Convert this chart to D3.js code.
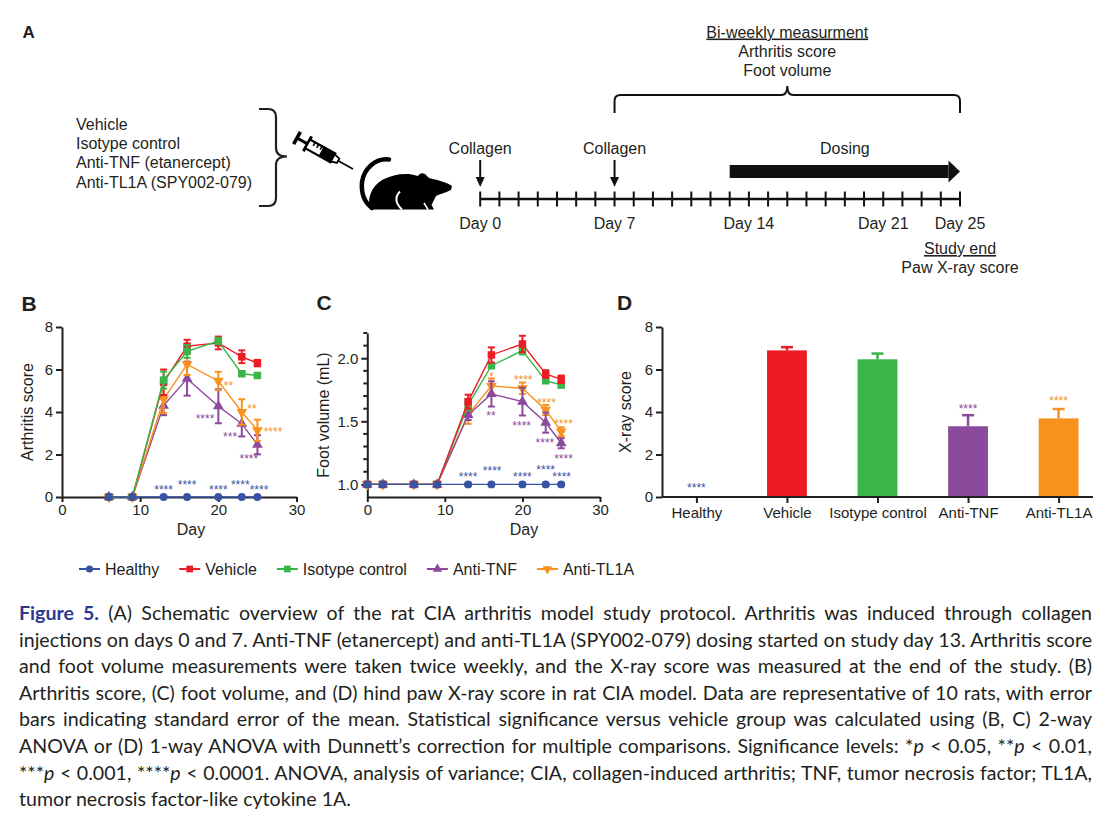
<!DOCTYPE html>
<html>
<head>
<meta charset="utf-8">
<script src="https://cdn.jsdelivr.net/npm/d3@7"></script>
<style>
  body { margin: 0; background: #fff; }
  svg { display: block; }
</style>
</head>
<body>
<svg id="fig" width="1106" height="815"></svg>
<script>
// Figure: CIA rat model — schematic (A), arthritis score (B), foot volume (C), X-ray score (D)

const FONT = '"Liberation Sans", Arial, Helvetica, sans-serif';
const INK = "#231f20";

// ---- data ----
const groups = ["Healthy", "Vehicle", "Isotype control", "Anti-TNF", "Anti-TL1A"];
const groupColors = ["#3953a4", "#ed1c24", "#39b54a", "#8b4a9c", "#f7921e"];
const groupSymbols = ["circle", "square", "square", "triUp", "triDown"];

// B: arthritis score (mean, SEM)
const arthDays = [6, 9, 13, 16, 20, 23, 25];
const arthHealthy  = [0, 0, 0, 0, 0, 0, 0];
const arthVehicle  = [0, 0, 5.4, 7.1, 7.25, 6.6, 6.3];
const arthIsotype  = [0, 0, 5.5, 6.85, 7.34, 5.8, 5.72];
const arthAntiTNF  = [0, 0, 4.3, 5.57, 4.27, 3.45, 2.46];
const arthAntiTL1A = [0, 0, 4.6, 6.24, 5.46, 4.0, 3.14];
const arthHealthyErr  = [0, 0, 0, 0, 0, 0, 0];
const arthVehicleErr  = [0, 0, 0.6, 0.3, 0.3, 0.3, 0.15];
const arthIsotypeErr  = [0, 0, 0.4, 0.3, 0.15, 0.1, 0.1];
const arthAntiTNFErr  = [0, 0, 0.45, 0.8, 0.8, 0.6, 0.45];
const arthAntiTL1AErr = [0, 0, 0.65, 0.5, 0.43, 0.6, 0.5];

// C: foot volume (mL)
const footDays = [0, 2, 6, 9, 13, 16, 20, 23, 25];
const footHealthy  = [1, 1, 1, 1, 1, 1, 1, 1, 1];
const footVehicle  = [1, 1, 1, 1, 1.656, 2.026, 2.113, 1.875, 1.833];
const footIsotype  = [1, 1, 1, 1, 1.63, 1.941, 2.06, 1.822, 1.788];
const footAntiTNF  = [1, 1, 1, 1, 1.55, 1.717, 1.656, 1.49, 1.326];
const footAntiTL1A = [1, 1, 1, 1, 1.555, 1.78, 1.762, 1.59, 1.418];
const footHealthyErr  = [0.01, 0.01, 0.01, 0.01, 0.01, 0.01, 0.01, 0.01, 0.01];
const footVehicleErr  = [0.015, 0.015, 0.01, 0.01, 0.055, 0.06, 0.065, 0.03, 0.03];
const footIsotypeErr  = [0.015, 0.015, 0.01, 0.01, 0.04, 0.02, 0.03, 0.02, 0.02];
const footAntiTNFErr  = [0.015, 0.015, 0.01, 0.01, 0.04, 0.1, 0.11, 0.08, 0.04];
const footAntiTL1AErr = [0.02, 0.02, 0.01, 0.01, 0.075, 0.06, 0.045, 0.04, 0.035];

// D: hind paw X-ray score
const xrayMean = [0, 6.9, 6.48, 3.33, 3.7];
const xrayErr  = [0, 0.15, 0.27, 0.52, 0.44];

// significance labels: [group index, day, value, text]
const arthStars = [
  [0, 13, 0.47, "****"], [0, 16, 0.71, "****"], [0, 20, 0.47, "****"],
  [0, 22.8, 0.71, "****"], [0, 25.2, 0.47, "****"],
  [4, 21.3, 5.35, "**"], [4, 24.3, 4.28, "**"], [4, 27.0, 3.18, "****"],
  [3, 18.3, 3.81, "****"], [3, 21.5, 2.96, "***"], [3, 23.9, 1.94, "****"]
];
const footStars = [
  [0, 13, 1.082, "****"], [0, 16.1, 1.13, "****"], [0, 20, 1.082, "****"],
  [0, 23, 1.135, "****"], [0, 25.06, 1.082, "****"],
  [4, 16.0, 1.875, "*"], [4, 20.1, 1.849, "****"], [4, 23.1, 1.669, "****"], [4, 25.3, 1.502, "****"],
  [3, 15.95, 1.563, "**"], [3, 19.9, 1.484, "****"], [3, 22.9, 1.352, "****"], [3, 25.3, 1.227, "****"]
];
const xrayStars = [[0, 0.55, "****"], [3, 4.3, "****"], [4, 4.66, "****"]];

// A: protocol schematic
const treatments = ["Vehicle", "Isotype control", "Anti-TNF (etanercept)", "Anti-TL1A (SPY002-079)"];
const timelineLabelDays = [0, 7, 14, 21, 25];
const collagenDays = [0, 7];
const dosingStart = 13, studyEnd = 25, measureStart = 7;
const measureLines = ["Bi-weekly measurment", "Arthritis score", "Foot volume"];
const endLines = ["Study end", "Paw X-ray score"];

const captionLines = [
  "{Figure 5.} (A) Schematic overview of the rat CIA arthritis model study protocol. Arthritis was induced through collagen",
  "injections on days 0 and 7. Anti-TNF (etanercept) and anti-TL1A (SPY002-079) dosing started on study day 13. Arthritis score",
  "and foot volume measurements were taken twice weekly, and the X-ray score was measured at the end of the study. (B)",
  "Arthritis score, (C) foot volume, and (D) hind paw X-ray score in rat CIA model. Data are representative of 10 rats, with error",
  "bars indicating standard error of the mean. Statistical significance versus vehicle group was calculated using (B, C) 2-way",
  "ANOVA or (D) 1-way ANOVA with Dunnett\u2019s correction for multiple comparisons. Significance levels: *_p_ < 0.05, **_p_ < 0.01,",
  "***_p_ < 0.001, ****_p_ < 0.0001. ANOVA, analysis of variance; CIA, collagen-induced arthritis; TNF, tumor necrosis factor; TL1A,",
  "tumor necrosis factor-like cytokine 1A."
];

// ---- helpers ----
const svg = d3.select("#fig");

function symbolPath(kind, small) {
  const k = small ? 0.8 : 1;
  if (kind === "circle") return d3.symbol(d3.symbolCircle, 50 * k)();
  if (kind === "square") return d3.symbol(d3.symbolSquare, 56 * k)();
  return d3.symbol(d3.symbolTriangle, 50 * k)();
}
function symbolRot(kind) { return kind === "triDown" ? " rotate(180)" : ""; }

function styleAxis(sel) {
  sel.attr("font-family", FONT).attr("font-size", 15);
  sel.select(".domain").attr("stroke", INK).attr("stroke-width", 2);
  sel.selectAll(".tick line").attr("stroke", INK).attr("stroke-width", 2);
  sel.selectAll(".tick text").attr("fill", INK);
}

function panelLabel(txt, x, y, size) {
  svg.append("text").attr("x", x).attr("y", y)
    .attr("font-family", FONT).attr("font-weight", 700).attr("font-size", size)
    .attr("fill", INK).text(txt);
}

function drawStars(g, list, x, y) {
  g.selectAll("text.star").data(list).join("text")
    .attr("class", "star")
    .attr("x", d => x(d[1])).attr("y", d => y(d[2]))
    .attr("dy", "0.58em")
    .attr("text-anchor", "middle")
    .attr("font-family", FONT).attr("font-size", 12)
    .attr("fill", d => groupColors[d[0]])
    .text(d => d[3]);
}

function drawLinePanel(cfg) {
  const g = svg.append("g");
  const x = d3.scaleLinear().domain([0, 30]).range(cfg.xRange);
  const y = d3.scaleLinear().domain(cfg.yDomain).range(cfg.yRange);

  if (cfg.minorTicks) {
    g.append("g").attr("transform", `translate(${cfg.xRange[0]},0)`)
      .selectAll("line").data(cfg.minorTicks).join("line")
      .attr("x1", -4).attr("x2", 0)
      .attr("y1", d => y(d)).attr("y2", d => y(d))
      .attr("stroke", INK).attr("stroke-width", 2);
  }
  g.append("g").attr("transform", `translate(${cfg.xRange[0]},0)`)
    .call(d3.axisLeft(y).tickValues(cfg.yTicks).tickFormat(cfg.yFormat)
      .tickSize(6).tickPadding(3).tickSizeOuter(0))
    .call(styleAxis);
  g.append("g").attr("transform", `translate(0,${cfg.yRange[0]})`)
    .call(d3.axisBottom(x).tickValues([0, 10, 20, 30]).tickSize(5).tickPadding(2).tickSizeOuter(0))
    .call(styleAxis);

  g.append("text").attr("x", cfg.dayX).attr("y", 535)
    .attr("text-anchor", "middle").attr("font-family", FONT).attr("font-size", 16)
    .attr("fill", INK).text("Day");
  g.append("text").attr("transform", `translate(${cfg.titleX},${cfg.titleY}) rotate(-90)`)
    .attr("text-anchor", "middle").attr("dy", "0.35em")
    .attr("font-family", FONT).attr("font-size", 16).attr("fill", INK).text(cfg.title);

  const line = d3.line().x(d => x(d.day)).y(d => y(d.v));
  cfg.order.forEach(gi => {
    const pts = cfg.days.map((day, i) => ({ day, v: cfg.means[gi][i], e: cfg.errs[gi][i] }));
    const col = groupColors[gi];
    const sg = g.append("g");
    sg.append("path").datum(pts).attr("d", line)
      .attr("fill", "none").attr("stroke", col).attr("stroke-width", 1.4);
    const eb = sg.selectAll("g.err").data(pts.filter(d => d.e > 0)).join("g").attr("class", "err")
      .attr("stroke", col).attr("stroke-width", 2);
    eb.append("line").attr("x1", d => x(d.day)).attr("x2", d => x(d.day))
      .attr("y1", d => y(d.v - d.e)).attr("y2", d => y(d.v + d.e));
    eb.append("line").attr("x1", d => x(d.day) - 3.5).attr("x2", d => x(d.day) + 3.5)
      .attr("y1", d => y(d.v + d.e)).attr("y2", d => y(d.v + d.e));
    eb.append("line").attr("x1", d => x(d.day) - 3.5).attr("x2", d => x(d.day) + 3.5)
      .attr("y1", d => y(d.v - d.e)).attr("y2", d => y(d.v - d.e));
    sg.selectAll("path.pt").data(pts).join("path").attr("class", "pt")
      .attr("d", symbolPath(groupSymbols[gi]))
      .attr("transform", d => `translate(${x(d.day)},${y(d.v)})` + symbolRot(groupSymbols[gi]))
      .attr("fill", col);
  });
  drawStars(g, cfg.stars, x, y);
}

// ---- Panel A ----
panelLabel("A", 22.5, 37.5, 17);

const listG = svg.append("g").attr("font-family", FONT).attr("font-size", 16).attr("fill", INK);
listG.selectAll("text").data(treatments).join("text")
  .attr("x", 76).attr("y", (d, i) => 130 + i * 19.2).text(d => d);

svg.append("path")
  .attr("d", "M259,109 L268,109 Q276,109 276,117 L276,148 Q276,156.5 287,156.5 Q276,156.5 276,165 L276,198 Q276,206 268,206 L259,206")
  .attr("fill", "none").attr("stroke", INK).attr("stroke-width", 2.2);

// syringe
const syr = svg.append("g").attr("transform", "translate(297,138) rotate(29)")
  .attr("stroke", "#000").attr("stroke-linecap", "butt");
syr.append("line").attr("x1", 0).attr("y1", -7).attr("x2", 0).attr("y2", 7).attr("stroke-width", 3.5);
syr.append("line").attr("x1", 0).attr("y1", 0).attr("x2", 12).attr("y2", 0).attr("stroke-width", 3);
syr.append("line").attr("x1", 12).attr("y1", -8.5).attr("x2", 12).attr("y2", 8.5).attr("stroke-width", 3);
syr.append("rect").attr("x", 12).attr("y", -5).attr("width", 29).attr("height", 10)
  .attr("fill", "#fff").attr("stroke-width", 2.2);
syr.append("rect").attr("x", 28).attr("y", -5).attr("width", 13).attr("height", 10).attr("fill", "#000");
syr.selectAll("line.grad").data([18, 22, 26]).join("line").attr("class", "grad")
  .attr("x1", d => d).attr("x2", d => d).attr("y1", -5).attr("y2", -1).attr("stroke-width", 1.6);
syr.append("path").attr("d", "M41,-4 L47,-2.5 L47,2.5 L41,4 Z").attr("fill", "#fff").attr("stroke-width", 1.8);
syr.append("line").attr("x1", 47).attr("y1", 0).attr("x2", 64).attr("y2", 0).attr("stroke-width", 1.6);

// rat silhouette
svg.append("path")
  .attr("d", "M389,159.5 C376,158 364,168 362,182 C361,193 364,202 372,208")
  .attr("fill", "none").attr("stroke", "#000").attr("stroke-width", 4.5).attr("stroke-linecap", "round");
svg.append("path")
  .attr("d", "M370,209.5 C367,199 371,186 383,179.5 C392,175 402,173 412,174.5 L418,176 C420,172.5 424,172.5 426.5,175.5 L429,178 C437,180 446,182 452,186 L451,190 C446,192.5 440,194 436,196 L431.5,205 L434,209.5 Z")
  .attr("fill", "#000");
svg.append("path").attr("d", "M400,191.5 C394,197.5 396,204 402,209.5")
  .attr("fill", "none").attr("stroke", "#fff").attr("stroke-width", 2);
svg.append("path").attr("d", "M424,203 L428,209.5")
  .attr("fill", "none").attr("stroke", "#fff").attr("stroke-width", 1.6);

// timeline
const tx = d3.scaleLinear().domain([0, 25]).range([480.2, 960]);
const tl = svg.append("g").attr("stroke", "#111");
tl.append("line").attr("x1", tx(0)).attr("x2", tx(25)).attr("y1", 199).attr("y2", 199).attr("stroke-width", 2.5);
tl.selectAll("line.tk").data(d3.range(0, 26)).join("line").attr("class", "tk")
  .attr("x1", d => tx(d)).attr("x2", d => tx(d)).attr("y1", 191.5).attr("y2", 206.5).attr("stroke-width", 2);

const tText = svg.append("g").attr("font-family", FONT).attr("font-size", 16).attr("fill", INK)
  .attr("text-anchor", "middle");
tText.selectAll("text.day").data(timelineLabelDays).join("text").attr("class", "day")
  .attr("x", d => tx(d)).attr("y", 228.5).text(d => "Day " + d);

collagenDays.forEach(d => {
  tl.append("line").attr("x1", tx(d)).attr("x2", tx(d)).attr("y1", 160).attr("y2", 178).attr("stroke-width", 2);
  svg.append("path").attr("d", `M${tx(d) - 4.5},177 L${tx(d) + 4.5},177 L${tx(d)},187 Z`).attr("fill", "#111");
  tText.append("text").attr("x", tx(d)).attr("y", 153.5).text("Collagen");
});

// dosing arrow
svg.append("rect").attr("x", tx(dosingStart)).attr("y", 165).attr("width", tx(24.4) - tx(dosingStart))
  .attr("height", 13).attr("fill", "#111");
svg.append("path").attr("d", `M${tx(24.4)},160.5 L${tx(studyEnd)},171.5 L${tx(24.4)},182.5 Z`).attr("fill", "#111");
tText.append("text").attr("x", tx((dosingStart + studyEnd) / 2)).attr("y", 153.5).text("Dosing");

// measurement bracket
const bx0 = tx(measureStart), bx1 = tx(studyEnd), bm = (bx0 + bx1) / 2;
svg.append("path")
  .attr("d", `M${bx0},113 L${bx0},101 Q${bx0},95 ${bx0 + 6},95 L${bm - 6},95 Q${bm},95 ${bm},86 Q${bm},95 ${bm + 6},95 L${bx1 - 6},95 Q${bx1},95 ${bx1},101 L${bx1},113`)
  .attr("fill", "none").attr("stroke", "#111").attr("stroke-width", 2);
tText.selectAll("text.meas").data(measureLines).join("text").attr("class", "meas")
  .attr("x", bm).attr("y", (d, i) => 37.5 + i * 19.2)
  .attr("text-decoration", (d, i) => i === 0 ? "underline" : null)
  .text(d => d);
tText.selectAll("text.end").data(endLines).join("text").attr("class", "end")
  .attr("x", tx(studyEnd)).attr("y", (d, i) => 254 + i * 19.2)
  .attr("text-decoration", (d, i) => i === 0 ? "underline" : null)
  .text(d => d);

// ---- Panel B ----
panelLabel("B", 21.5, 311, 21);
drawLinePanel({
  xRange: [62, 296.5], yDomain: [0, 8], yRange: [497, 327],
  yTicks: [0, 2, 4, 6, 8], yFormat: d3.format("d"),
  days: arthDays,
  means: [arthHealthy, arthVehicle, arthIsotype, arthAntiTNF, arthAntiTL1A],
  errs: [arthHealthyErr, arthVehicleErr, arthIsotypeErr, arthAntiTNFErr, arthAntiTL1AErr],
  order: [3, 4, 1, 2, 0],
  stars: arthStars,
  title: "Arthritis score", titleX: 27, titleY: 412, dayX: 191
});

// ---- Panel C ----
panelLabel("C", 316.5, 310, 21);
drawLinePanel({
  xRange: [367.3, 600], yDomain: [0.9, 2.2], yRange: [497, 333],
  yTicks: [1.0, 1.5, 2.0], yFormat: d3.format(".1f"),
  minorTicks: [1.1, 1.2, 1.3, 1.4, 1.6, 1.7, 1.8, 1.9, 2.1, 2.2],
  days: footDays,
  means: [footHealthy, footVehicle, footIsotype, footAntiTNF, footAntiTL1A],
  errs: [footHealthyErr, footVehicleErr, footIsotypeErr, footAntiTNFErr, footAntiTL1AErr],
  order: [4, 3, 2, 1, 0],
  stars: footStars,
  title: "Foot volume (mL)", titleX: 323, titleY: 415, dayX: 524
});

// ---- Panel D ----
panelLabel("D", 617, 310, 21);
{
  const g = svg.append("g");
  const x = d3.scalePoint().domain(groups).range([662, 1093]).padding(0.38);
  const y = d3.scaleLinear().domain([0, 8]).range([497, 327]);
  const bw = x.step() * 0.44;
  const bars = groups.map((name, i) => ({ name, i, v: xrayMean[i], e: xrayErr[i] })).filter(d => d.v > 0);

  g.selectAll("rect.bar").data(bars).join("rect").attr("class", "bar")
    .attr("x", d => x(d.name) - bw / 2).attr("width", bw)
    .attr("y", d => y(d.v)).attr("height", d => y(0) - y(d.v))
    .attr("fill", d => groupColors[d.i]);
  const eb = g.selectAll("g.err").data(bars).join("g").attr("class", "err")
    .attr("stroke", d => groupColors[d.i]).attr("stroke-width", 2.5);
  eb.append("line").attr("x1", d => x(d.name)).attr("x2", d => x(d.name))
    .attr("y1", d => y(d.v)).attr("y2", d => y(d.v + d.e));
  eb.append("line").attr("x1", d => x(d.name) - 6).attr("x2", d => x(d.name) + 6)
    .attr("y1", d => y(d.v + d.e)).attr("y2", d => y(d.v + d.e));

  g.append("g").attr("transform", "translate(662,0)")
    .call(d3.axisLeft(y).tickValues([0, 2, 4, 6, 8]).tickSize(6).tickPadding(3).tickSizeOuter(0))
    .call(styleAxis);
  g.append("g").attr("transform", "translate(0,497)")
    .call(d3.axisBottom(x).tickSize(6).tickPadding(4).tickSizeOuter(0))
    .call(styleAxis)
    .call(a => a.select(".domain").attr("d", "M662,0H1093"));

  g.append("text").attr("transform", "translate(625,412) rotate(-90)")
    .attr("text-anchor", "middle").attr("dy", "0.35em")
    .attr("font-family", FONT).attr("font-size", 16).attr("fill", INK).text("X-ray score");

  g.selectAll("text.star").data(xrayStars).join("text").attr("class", "star")
    .attr("x", d => x(groups[d[0]])).attr("y", d => y(d[1])).attr("dy", "0.58em")
    .attr("text-anchor", "middle").attr("font-family", FONT).attr("font-size", 12)
    .attr("fill", d => groupColors[d[0]]).text(d => d[2]);
}

// ---- legend ----
{
  const lg = svg.append("g");
  let lx = 79;
  groups.forEach((name, i) => {
    const it = lg.append("g").attr("transform", `translate(${lx},569)`);
    it.append("line").attr("x1", 0).attr("x2", 21).attr("stroke", groupColors[i]).attr("stroke-width", 2);
    it.append("path").attr("d", symbolPath(groupSymbols[i], true))
      .attr("transform", "translate(10.5,0)" + symbolRot(groupSymbols[i]))
      .attr("fill", groupColors[i]);
    const t = it.append("text").attr("x", 26).attr("dy", "0.35em")
      .attr("font-family", FONT).attr("font-size", 16).attr("fill", INK).text(name);
    lx += 26 + t.node().getComputedTextLength() + 20;
  });
}

// ---- caption (justified lines) ----
{
  const cap = svg.append("g").attr("font-family", "Lato, sans-serif").attr("font-size", 19.6)
    .attr("fill", INK).style("white-space", "pre");
  const left = 19, target = 1073;
  captionLines.forEach((line, i) => {
    const t = cap.append("text").attr("x", left).attr("y", 620 + i * 26.6);
    line.split(/(\{Figure 5\.\}|_p_)/).filter(s => s.length).forEach(s => {
      if (s === "{Figure 5.}") t.append("tspan").attr("font-weight", 700).attr("fill", "#2b3990").text("Figure 5.");
      else if (s === "_p_") t.append("tspan").attr("font-style", "italic").text("p");
      else t.append("tspan").text(s);
    });
    if (i < captionLines.length - 1) {
      const natural = t.node().getComputedTextLength();
      const spaces = (t.text().match(/ /g) || []).length;
      const ws = (target - natural) / spaces;
      if (ws >= -2) t.style("word-spacing", ws + "px");
      else t.attr("textLength", target).attr("lengthAdjust", "spacingAndGlyphs");
    }
  });
}
</script>
</body>
</html>
